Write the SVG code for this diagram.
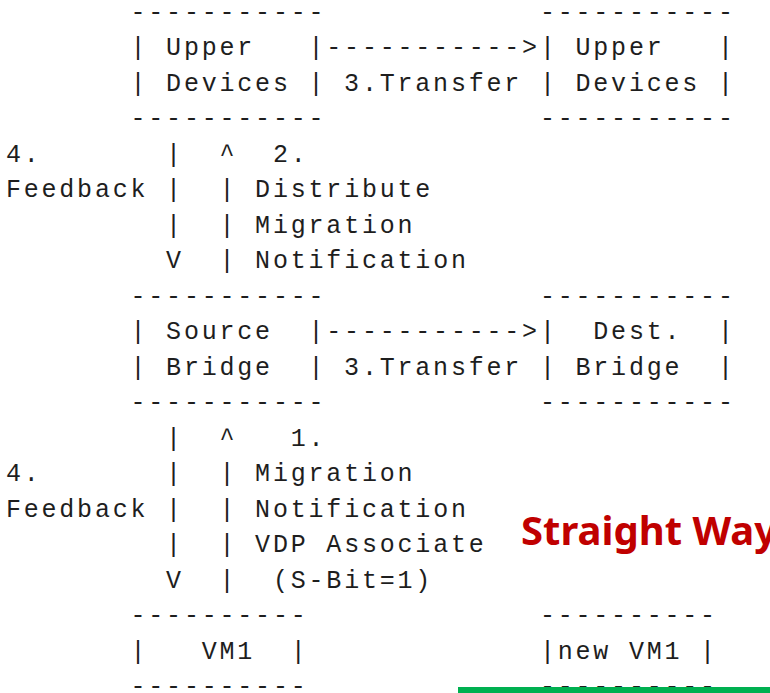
<svg xmlns="http://www.w3.org/2000/svg" width="770" height="693" viewBox="0 0 770 693" xml:space="preserve">
<style>
  .t { font-family: "Liberation Mono", "DejaVu Sans Mono", monospace; font-size: 25px; letter-spacing: 2.8px; fill: #1e1e1e; white-space: pre; }
  .title { font-family: "Noto Sans", "Liberation Sans", sans-serif; font-weight: bold; font-size: 40px; fill: #C00000; }
</style>
<rect x="0" y="0" width="770" height="693" fill="#ffffff"/>

<!-- Nodes -->
<g id="upper-devices-src">
  <text class="t" x="130.5" y="19.5">-----------</text>
  <text class="t" x="130.5" y="55">| Upper   |</text>
  <text class="t" x="130.5" y="90.5">| Devices |</text>
  <text class="t" x="130.5" y="126">-----------</text>
</g>
<g id="upper-devices-dst">
  <text class="t" x="539.9" y="19.5">-----------</text>
  <text class="t" x="539.9" y="55">| Upper   |</text>
  <text class="t" x="539.9" y="90.5">| Devices |</text>
  <text class="t" x="539.9" y="126">-----------</text>
</g>
<g id="source-bridge">
  <text class="t" x="130.5" y="303.5">-----------</text>
  <text class="t" x="130.5" y="339">| Source  |</text>
  <text class="t" x="130.5" y="374.5">| Bridge  |</text>
  <text class="t" x="130.5" y="410">-----------</text>
</g>
<g id="dest-bridge">
  <text class="t" x="539.9" y="303.5">-----------</text>
  <text class="t" x="539.9" y="339">|  Dest.  |</text>
  <text class="t" x="539.9" y="374.5">| Bridge  |</text>
  <text class="t" x="539.9" y="410">-----------</text>
</g>
<g id="vm1">
  <text class="t" x="130.5" y="623">----------</text>
  <text class="t" x="130.5" y="658.5">|   VM1  |</text>
  <text class="t" x="130.5" y="694">----------</text>
</g>
<g id="new-vm1">
  <text class="t" x="539.9" y="623">----------</text>
  <text class="t" x="539.9" y="658.5">|new VM1 |</text>
  <text class="t" x="539.9" y="694">----------</text>
</g>

<!-- Connectors -->
<g id="connectors">
  <!-- 3. Transfer (upper devices) -->
  <text class="t" x="326.3" y="55">-----------&gt;</text>
  <text class="t" x="344.1" y="90.5">3.Transfer</text>
  <!-- 3. Transfer (bridges) -->
  <text class="t" x="326.3" y="339">-----------&gt;</text>
  <text class="t" x="344.1" y="374.5">3.Transfer</text>

  <!-- Upper: feedback down, distribute up -->
  <text class="t" x="5.9" y="161.5">4.       |  ^  2.</text>
  <text class="t" x="5.9" y="197">Feedback |  | Distribute</text>
  <text class="t" x="5.9" y="232.5">         |  | Migration</text>
  <text class="t" x="5.9" y="268">         V  | Notification</text>

  <!-- Lower: feedback down, migration notification up -->
  <text class="t" x="5.9" y="445.5">         |  ^   1.</text>
  <text class="t" x="5.9" y="481">4.       |  | Migration</text>
  <text class="t" x="5.9" y="516.5">Feedback |  | Notification</text>
  <text class="t" x="5.9" y="552">         |  | VDP Associate</text>
  <text class="t" x="5.9" y="587.5">         V  |  (S-Bit=1)</text>
</g>

<text class="title" x="521" y="545">Straight Way</text>
<rect x="458" y="687" width="312" height="6" fill="#00B050"/>
</svg>
